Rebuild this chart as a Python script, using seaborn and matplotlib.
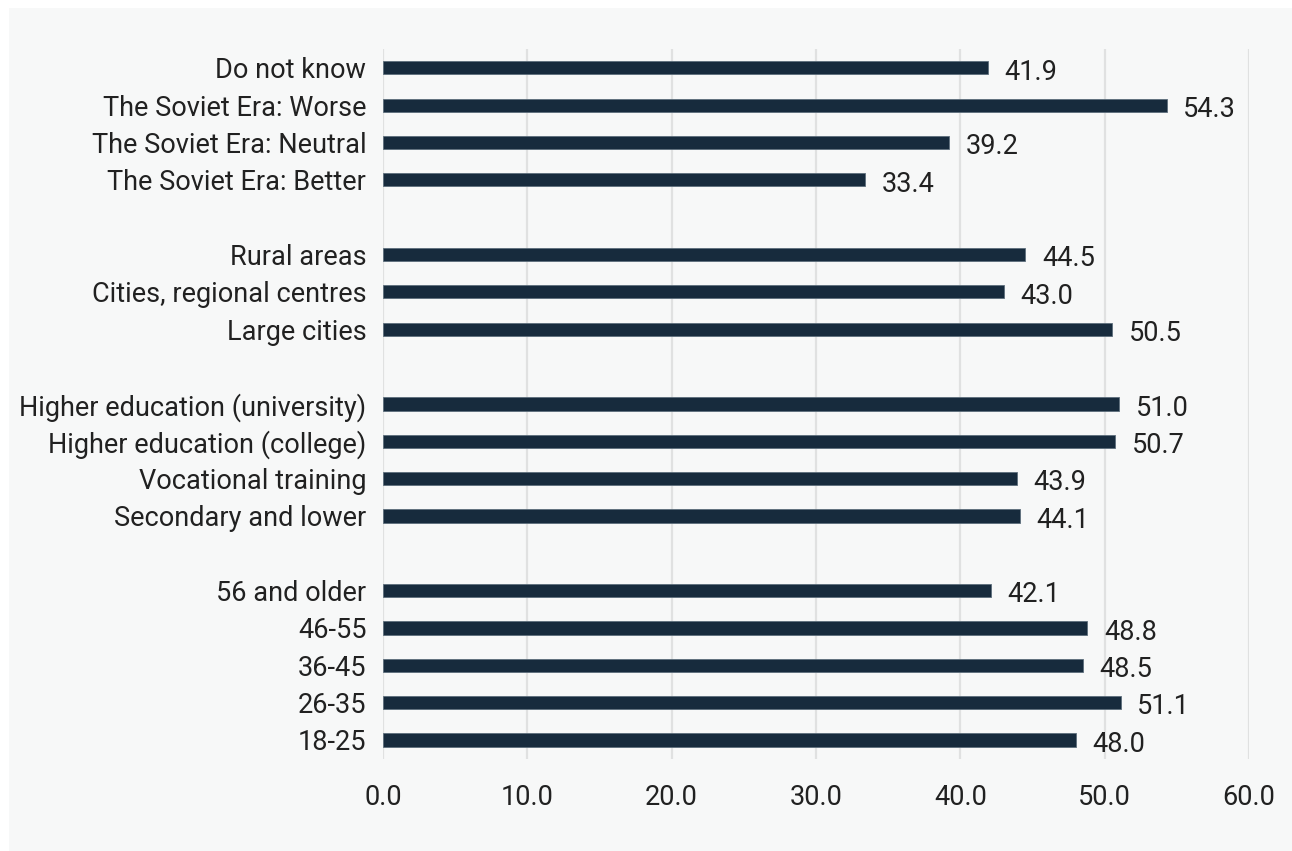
import matplotlib
matplotlib.use("Agg")
import matplotlib.pyplot as plt
from matplotlib.patches import Rectangle
import pandas as pd
import seaborn as sns

# Survey groups, top to bottom as drawn
soviet_groups = ["Do not know", "The Soviet Era: Worse", "The Soviet Era: Neutral", "The Soviet Era: Better"]
soviet_values = [41.9, 54.3, 39.2, 33.4]

settlement_groups = ["Rural areas", "Cities, regional centres", "Large cities"]
settlement_values = [44.5, 43.0, 50.5]

education_groups = ["Higher education (university)", "Higher education (college)",
                    "Vocational training", "Secondary and lower"]
education_values = [51.0, 50.7, 43.9, 44.1]

age_groups = ["56 and older", "46-55", "36-45", "26-35", "18-25"]
age_values = [42.1, 48.8, 48.5, 51.1, 48.0]

x_ticks = [0, 10, 20, 30, 40, 50, 60]

BAR_COLOR = "#172b3d"
PANEL_COLOR = "#f7f8f8"
TEXT_COLOR = "#212121"
GRID_COLOR = "#e0e1e1"
FONT_SIZE = 19.5

df = pd.DataFrame({
    "group": soviet_groups + settlement_groups + education_groups + age_groups,
    "value": soviet_values + settlement_values + education_values + age_values,
})

# blank slots separate the four blocks
order = (soviet_groups + [" "] + settlement_groups + ["  "]
         + education_groups + ["   "] + age_groups)

sns.set_theme(style="white")
plt.rcParams["font.family"] = ["Roboto", "DejaVu Sans"]

fig = plt.figure(figsize=(12.92, 8.51), dpi=100, facecolor="white")
fig.patches.append(Rectangle((9 / 1292, 0), 1 - 9 / 1292, 1 - 8 / 851,
                             transform=fig.transFigure, facecolor=PANEL_COLOR,
                             edgecolor="none", zorder=-10))

ax = fig.add_axes([383 / 1292, 0.1085, (1249 - 383) / 1292, 0.9421 - 0.1085])
ax.set_facecolor(PANEL_COLOR)

sns.barplot(data=df, y="group", x="value", order=order, orient="h",
            color=BAR_COLOR, width=0.35, saturation=1, errorbar=None,
            edgecolor="#5d6e7c", linewidth=0.6, ax=ax, zorder=3)

for container in ax.containers:
    for bar in container:
        w = bar.get_width()
        if pd.isna(w):
            continue
        ax.annotate(f"{w:.1f}", xy=(w, bar.get_y() + bar.get_height() / 2),
                    xytext=(12, -3), textcoords="offset points",
                    ha="left", va="center", fontsize=FONT_SIZE, color=TEXT_COLOR)

ax.set_xlim(0, 60)
ax.set_ylim(len(order) - 0.5, -0.5)
ax.set_xticks(x_ticks)
ax.set_xticklabels([f"{t:.1f}" for t in x_ticks])
ax.xaxis.grid(True, color=GRID_COLOR, linewidth=1.6, zorder=0)
ax.yaxis.grid(False)
ax.set_axisbelow(True)
for s in ax.spines.values():
    s.set_visible(False)
ax.tick_params(axis="x", length=0, pad=18, labelsize=FONT_SIZE, labelcolor=TEXT_COLOR)
ax.tick_params(axis="y", length=0, pad=12, labelsize=FONT_SIZE, labelcolor=TEXT_COLOR)
ax.set_xlabel("")
ax.set_ylabel("")

fig.savefig("out.png", dpi=100, facecolor="white")
